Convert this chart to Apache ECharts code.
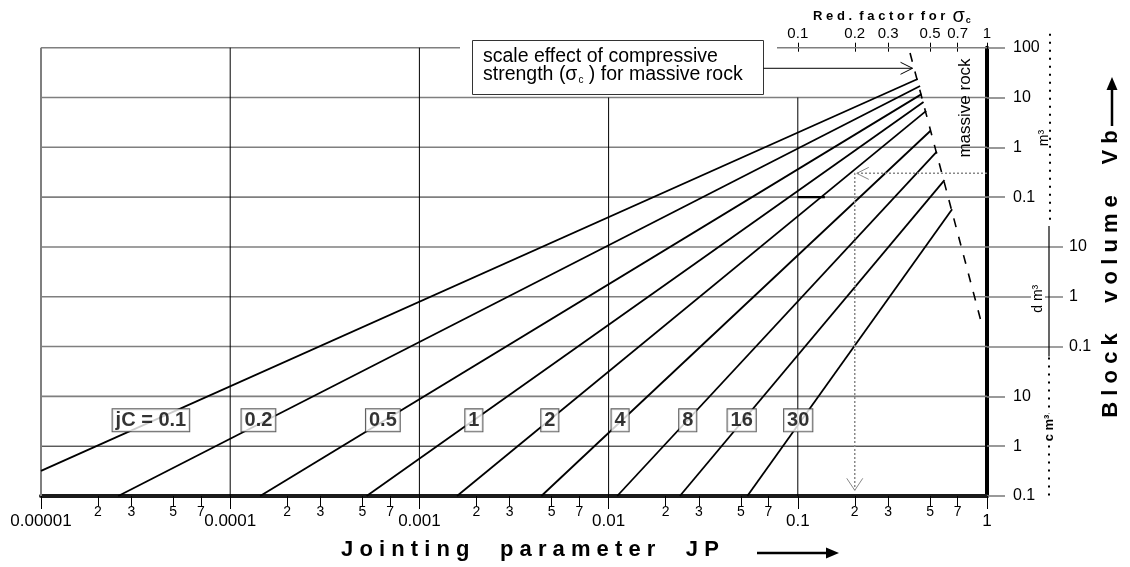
<!DOCTYPE html>
<html><head><meta charset="utf-8">
<script src="https://cdn.jsdelivr.net/npm/echarts@6/dist/echarts.min.js"></script>
<style>html,body{margin:0;padding:0;background:#fff}#c{width:1130px;height:567px}</style>
</head><body><div id="c"></div>
<script>
const FONT = '"Liberation Sans", Arial, Helvetica, sans-serif';

// ---- axes ----
const jpRange = [1e-5, 1];
const vbRange = [1e-7, 100];
const jpDecades = [1e-5, 1e-4, 1e-3, 1e-2, 1e-1, 1];
const jpDecadeLabels = ['0.00001', '0.0001', '0.001', '0.01', '0.1', '1'];
const jpMinorDigits = [2, 3, 5, 7];
const redFactorTicks = [0.1, 0.2, 0.3, 0.5, 0.7, 1];
const redFactorLabels = ['0.1', '0.2', '0.3', '0.5', '0.7', '1'];
const vbDecades = [100, 10, 1, 0.1, 1e-2, 1e-3, 1e-4, 1e-5, 1e-6, 1e-7];
const vbLabelValues = [100, 10, 1, 0.1, 1e-5, 1e-6, 1e-7];
const vbLabelTexts = ['100', '10', '1', '0.1', '10', '1', '0.1'];
const dmLabelValues = [1e-2, 1e-3, 1e-4];
const dmLabelTexts = ['10', '1', '0.1'];
const vGridJP = [1e-4, 1e-3, 1e-2, 1e-1];
const vGridTopVb = [100, 100, 10, 10];

// ---- jC lines (JP, Vb in m3) ----
const jcNames = ['jC = 0.1', '0.2', '0.5', '1', '2', '4', '8', '16', '30'];
const jcStartJP = [1e-5, 2.56e-5, 1.44e-4, 5.26e-4, 1.58e-3, 4.41e-3, 1.11e-2, 2.38e-2, 5.41e-2];
const jcStartVb = [3.2e-7, 1e-7, 1e-7, 1e-7, 1e-7, 1e-7, 1e-7, 1e-7, 1e-7];
const jcEndJP = [0.43, 0.443, 0.451, 0.462, 0.477, 0.503, 0.543, 0.596, 0.654];
const jcEndVb = [23.5, 17.0, 11.7, 8.1, 5.4, 2.15, 0.82, 0.22, 0.057];
const jcLabelJP = [3.81e-5, 1.41e-4, 6.41e-4, 1.94e-3, 4.89e-3, 1.15e-2, 2.62e-2, 5.05e-2, 0.1005];
const jcLabelVb = [3.3e-6, 3.3e-6, 3.3e-6, 3.3e-6, 3.3e-6, 3.3e-6, 3.3e-6, 3.3e-6, 3.3e-6];

// scale effect (red. factor vs Vb) dashed line
const massiveFactor = [0.392, 0.935];
const massiveVb = [78, 2.96e-4];
// example reading path
const exampleJP = [1, 0.2, 0.2];
const exampleVb = [0.3, 0.3, 1.3e-7];
// short segment at 0.1 m3
const segJP = [0.1, 0.139];
const segVb = [0.1, 0.1];
// arrow from text box
const boxArrowTip = [0.404, 38.6];

const minorValues = [];
jpDecades.slice(0, 5).forEach(d => jpMinorDigits.forEach(k => minorValues.push(d * k)));
const lg = v => Math.round(Math.log10(v));
const jpLabelFor = v => jpDecadeLabels[lg(v) + 5] || '';

const series = [];
jcNames.forEach((n, i) => {
  series.push({
    type: 'line', name: n, xAxisIndex: 0, yAxisIndex: 0, symbol: 'none', silent: true, z: 3,
    lineStyle: { color: '#000', width: 1.8 },
    data: [[jcStartJP[i], jcStartVb[i]], [jcEndJP[i], jcEndVb[i]]]
  });
});
series.push({
  type: 'line', name: 'scale effect', symbol: 'none', silent: true, z: 3,
  lineStyle: { color: '#000', width: 1.6, type: [9, 10] },
  data: massiveFactor.map((f, i) => [f, massiveVb[i]])
});
series.push({
  type: 'line', name: 'example', symbol: 'none', silent: true, z: 3,
  lineStyle: { color: '#888', width: 1.5, type: [2, 2] },
  data: exampleJP.map((x, i) => [x, exampleVb[i]])
});
series.push({
  type: 'line', name: 'seg', symbol: 'none', silent: true, z: 3,
  lineStyle: { color: '#000', width: 2.2 },
  data: segJP.map((x, i) => [x, segVb[i]])
});
series.push({
  type: 'scatter', name: 'labels', symbolSize: 1, silent: true, z: 10,
  itemStyle: { color: 'rgba(0,0,0,0)' },
  data: jcLabelJP.map((x, i) => [x, jcLabelVb[i]]),
  label: {
    show: true, position: 'inside', formatter: p => jcNames[p.dataIndex],
    fontFamily: FONT, fontSize: 20, fontWeight: 'bold', color: '#000',
    backgroundColor: '#fff', borderColor: '#333', borderWidth: 1, padding: [2, 3, 0, 3]
  }
});

const logAxisBase = { type: 'log', logBase: 10, min: jpRange[0], max: jpRange[1], splitLine: { show: false } };
const option = {
  animation: false,
  backgroundColor: '#fff',
  grid: { left: 41, right: 143, top: 47.7, bottom: 71, containLabel: false },
  xAxis: [
    Object.assign({}, logAxisBase, {
      position: 'bottom',
      axisLine: { show: true, lineStyle: { color: '#1a1a1a', width: 4 } },
      axisTick: { show: true, length: 13, lineStyle: { color: '#000', width: 1 } },
      axisLabel: { show: true, margin: 17, fontFamily: FONT, fontSize: 17, color: '#000', formatter: v => jpLabelFor(v) },
      minorTick: { show: false }
    }),
    Object.assign({}, logAxisBase, {
      position: 'bottom',
      axisLine: { show: false },
      axisTick: { show: true, length: 10, customValues: minorValues, lineStyle: { color: '#000', width: 1 } },
      axisLabel: { show: true, margin: 9, fontFamily: FONT, fontSize: 14, color: '#000', customValues: minorValues,
        formatter: v => String(Math.round(v / Math.pow(10, Math.floor(Math.log10(v) + 1e-9)))) }
    }),
    Object.assign({}, logAxisBase, {
      position: 'top',
      axisLine: { show: false },
      axisTick: { show: true, length: 5, customValues: redFactorTicks, lineStyle: { color: '#000', width: 1 } },
      axisLabel: { show: true, margin: 6, fontFamily: FONT, fontSize: 15, color: '#000', customValues: redFactorTicks,
        formatter: v => redFactorLabels[redFactorTicks.findIndex(t => Math.abs(t - v) < 1e-6)] }
    }),
    Object.assign({}, logAxisBase, {
      position: 'top',
      axisLine: { show: false },
      axisTick: { show: true, inside: true, length: 4, customValues: redFactorTicks, lineStyle: { color: '#000', width: 1 } },
      axisLabel: { show: false }
    })
  ],
  yAxis: [
    {
      type: 'log', logBase: 10, min: vbRange[0], max: vbRange[1], position: 'right',
      axisLine: { show: true, lineStyle: { color: '#000', width: 4 } },
      axisTick: { show: true, length: 18, customValues: vbLabelValues, lineStyle: { color: '#7f7f7f', width: 1.6 } },
      axisLabel: { show: true, margin: 26, align: 'left', fontFamily: FONT, fontSize: 16, color: '#000', customValues: vbLabelValues,
        formatter: v => vbLabelTexts[vbLabelValues.findIndex(t => Math.abs(Math.log10(t) - Math.log10(v)) < 1e-3)] },
      splitLine: { show: false }
    },
    {
      type: 'log', logBase: 10, min: vbRange[0], max: vbRange[1], position: 'right',
      axisLine: { show: false },
      axisTick: { show: true, length: 76, customValues: dmLabelValues, lineStyle: { color: '#7f7f7f', width: 1.6 } },
      axisLabel: { show: true, margin: 82, align: 'left', fontFamily: FONT, fontSize: 16, color: '#000', customValues: dmLabelValues,
        formatter: v => dmLabelTexts[dmLabelValues.findIndex(t => Math.abs(Math.log10(t) - Math.log10(v)) < 1e-3)] },
      splitLine: { show: false }
    }
  ],
  series: series
};

const chart = echarts.init(document.getElementById('c'), null, { renderer: 'canvas' });
chart.setOption(option);

const P = (x, y) => chart.convertToPixel({ xAxisIndex: 0, yAxisIndex: 0 }, [x, y]);
const g = [];
function L(x1, y1, x2, y2, stroke, w, z, dash) {
  g.push({ type: 'line', silent: true, z: z, shape: { x1, y1, x2, y2 },
    style: { stroke: stroke, lineWidth: w, lineDash: dash || null } });
}
function openHead(tx, ty, ang, len, half, stroke, w, z) {
  const ca = Math.cos(ang), sa = Math.sin(ang);
  const bx = tx - ca * len, by = ty - sa * len;
  g.push({ type: 'polyline', silent: true, z: z,
    shape: { points: [[bx - sa * half, by + ca * half], [tx, ty], [bx + sa * half, by - ca * half]] },
    style: { stroke: stroke, lineWidth: w, fill: null } });
}
function fillHead(tx, ty, ang, len, half, z) {
  const ca = Math.cos(ang), sa = Math.sin(ang);
  const bx = tx - ca * len, by = ty - sa * len;
  g.push({ type: 'polygon', silent: true, z: z,
    shape: { points: [[bx - sa * half, by + ca * half], [tx, ty], [bx + sa * half, by - ca * half]] },
    style: { fill: '#000' } });
}
function T(x, y, text, opts) {
  g.push(Object.assign({ type: 'text', silent: true, x: x, y: y, z: 20,
    style: Object.assign({ text: text, fill: '#000', font: '16px ' + FONT, align: 'center', verticalAlign: 'middle' }, opts.style || {}) },
    opts.el || {}));
}

const xL = P(jpRange[0], 1)[0], xR = P(jpRange[1], 1)[0];
const yTop = P(1, vbRange[1])[1], yBot = P(1, vbRange[0])[1];

// horizontal grid lines
vbDecades.forEach(v => {
  const y = P(1, v)[1];
  if (v === 1e-6) L(xL, y, xR, y, '#111', 1, 1);
  else if (v !== 1e-7) L(xL, y, xR, y, '#7f7f7f', 1.6, 1);
});
// vertical grid lines
vGridJP.forEach((x, i) => {
  const p1 = P(x, vGridTopVb[i]), p2 = P(x, vbRange[0]);
  L(p1[0], p1[1], p2[0], p2[1], '#000', 1, 1);
});
// left edge
L(xL, yTop, xL, yBot, '#7f7f7f', 2, 1);

// text box
g.push({ type: 'rect', silent: true, z: 5, shape: { x: 460, y: 34, width: 317, height: 60 }, style: { fill: '#fff' } });
g.push({ type: 'rect', silent: true, z: 6, shape: { x: 472.5, y: 40.5, width: 291, height: 54 }, style: { fill: '#fff', stroke: '#333', lineWidth: 1 } });
T(483, 57, 'scale effect of compressive', { style: { align: 'left', font: '19.5px ' + FONT } });
g.push({ type: 'text', silent: true, x: 483, y: 75, z: 20, style: {
  text: '{t|strength (}{s|σ}{b|c}{t| ) for massive rock}', align: 'left', verticalAlign: 'middle',
  rich: { t: { font: '19.5px ' + FONT, fill: '#000', lineHeight: 24 }, s: { font: '19.5px ' + FONT, fill: '#000', lineHeight: 24 },
    b: { font: '10px ' + FONT, fill: '#000', lineHeight: 24, verticalAlign: 'bottom', padding: [0, 0, 2, 1] } } } });
// arrow from box
const tip = P(boxArrowTip[0], boxArrowTip[1]);
L(763.5, tip[1], tip[0], tip[1], '#000', 1, 6);
openHead(tip[0], tip[1], 0, 12, 6, '#000', 1, 6);

// example path arrowheads
const eCorner = P(exampleJP[1], exampleVb[1]);
openHead(eCorner[0] + 2, eCorner[1], Math.PI, 12, 6, '#888', 1, 6);
const eEnd = P(exampleJP[2], exampleVb[2]);
openHead(eEnd[0], eEnd[1], Math.PI / 2, 12, 8, '#888', 1, 6);

// top title
g.push({ type: 'text', silent: true, x: 892, y: 16, z: 20, style: {
  text: '{t|R e d .  f a c t o r  f o r  }{s|σ}{b|c}', align: 'center', verticalAlign: 'middle',
  rich: { t: { font: 'bold 13px ' + FONT, fill: '#000', lineHeight: 20 }, s: { font: '20px ' + FONT, fill: '#000', lineHeight: 20 },
    b: { font: 'bold 9px ' + FONT, fill: '#000', lineHeight: 20, verticalAlign: 'bottom', padding: [0, 0, 1, 1] } } } });

// massive rock
T(xR - 22, 108, 'massive rock', { style: { font: '17px ' + FONT }, el: { rotation: Math.PI / 2 } });

// unit column on the right
const yM01 = P(1, 0.1)[1], yDm10 = P(1, 1e-2)[1], yDm01 = P(1, 1e-4)[1], yCm10 = P(1, 1e-5)[1];
const xU = xR + 63;
L(xU, yTop - 14, xU, (yM01 + yDm10) / 2 + 3, '#000', 2, 2, [2, 6]);
L(xU - 1, (yM01 + yDm10) / 2 + 4, xU - 1, yDm01 + 10, '#000', 1.2, 2);
L(xU - 1, yDm01 + 11, xU - 1, yBot + 2, '#000', 2, 2, [2, 6]);
T(xU - 6, 138, 'm³', { style: { font: '14px ' + FONT }, el: { rotation: Math.PI / 2 } });
T(xU - 12, P(1, 1e-3)[1] + 2, 'd m³', { style: { font: '14px ' + FONT, backgroundColor: '#fff', padding: [0, 4, 0, 4] }, el: { rotation: Math.PI / 2 } });
T(xU - 1, 428, 'c m³', { style: { font: 'bold 13px ' + FONT, backgroundColor: '#fff', padding: [2, 1, 2, 1] }, el: { rotation: Math.PI / 2 } });

// y title
T(1111, 274, 'B l o c k     v o l u m e     V b', { style: { font: 'bold 22px ' + FONT }, el: { rotation: Math.PI / 2 } });
L(1112, 126, 1112, 88, '#000', 2.5, 20);
fillHead(1112, 77, -Math.PI / 2, 13, 5.5, 20);

// x title
T(530, 550, 'J o i n t i n g     p a r a m e t e r     J P', { style: { font: 'bold 22px ' + FONT } });
L(757, 553, 828, 553, '#000', 2.5, 20);
fillHead(839, 553, 0, 13, 5.5, 20);

chart.setOption({ graphic: { elements: g } });
</script>
</body></html>
